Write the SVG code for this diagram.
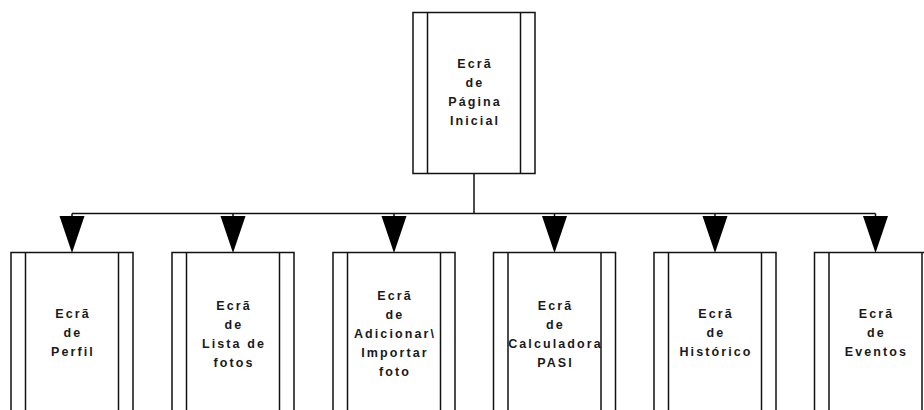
<svg xmlns="http://www.w3.org/2000/svg" width="924" height="410" viewBox="0 0 924 410">
  <defs>
    <style>
      .box { fill: #fff; stroke: #111; stroke-width: 1.5; }
      .bar { fill: none; stroke: #111; stroke-width: 1.5; }
      .wire { fill: none; stroke: #111; stroke-width: 1.5; }
      .head { fill: #000; stroke: none; }
      .lbl { font-family: "Liberation Sans", Arial, sans-serif; font-size: 12.5px; font-weight: bold; fill: #1a1a1a; letter-spacing: 2.1px; text-anchor: middle; }
    </style>
    <!-- predefined-process box: outer frame plus two inner side bars -->
    <g id="proc">
      <rect class="box" x="-61" y="0" width="122" height="161"/>
      <line class="bar" x1="-46.5" y1="0" x2="-46.5" y2="161"/>
      <line class="bar" x1="46.5" y1="0" x2="46.5" y2="161"/>
    </g>
    <polygon id="tri" class="head" points="-12.5,0 12.5,0 0,37"/>
  </defs>

  <!-- connectors -->
  <g id="connectors">
    <line class="wire" x1="474" y1="173" x2="474" y2="213.5"/>
    <line class="wire" x1="72" y1="213.5" x2="875.5" y2="213.5"/>
    <g class="wire">
      <line x1="72" y1="213.5" x2="72" y2="217"/>
      <line x1="233" y1="213.5" x2="233" y2="217"/>
      <line x1="394" y1="213.5" x2="394" y2="217"/>
      <line x1="554.5" y1="213.5" x2="554.5" y2="217"/>
      <line x1="715" y1="213.5" x2="715" y2="217"/>
      <line x1="875.5" y1="213.5" x2="875.5" y2="217"/>
    </g>
    <use href="#tri" x="72" y="216"/>
    <use href="#tri" x="233" y="216"/>
    <use href="#tri" x="394" y="216"/>
    <use href="#tri" x="554.5" y="216"/>
    <use href="#tri" x="715" y="216"/>
    <use href="#tri" x="875.5" y="216"/>
  </g>

  <g id="inicial">
    <use href="#proc" x="474" y="12.5"/>
    <text class="lbl" x="475" y="68">Ecrã</text>
    <text class="lbl" x="475" y="87">de</text>
    <text class="lbl" x="475" y="106">Página</text>
    <text class="lbl" x="475" y="125">Inicial</text>
  </g>

  <g id="perfil">
    <use href="#proc" x="72" y="252.5"/>
    <text class="lbl" x="73" y="318">Ecrã</text>
    <text class="lbl" x="73" y="337">de</text>
    <text class="lbl" x="73" y="356">Perfil</text>
  </g>

  <g id="lista">
    <use href="#proc" x="233" y="252.5"/>
    <text class="lbl" x="234" y="310">Ecrã</text>
    <text class="lbl" x="234" y="329">de</text>
    <text class="lbl" x="234" y="348">Lista de</text>
    <text class="lbl" x="234" y="367">fotos</text>
  </g>

  <g id="adicionar">
    <use href="#proc" x="394" y="252.5"/>
    <text class="lbl" x="395" y="300">Ecrã</text>
    <text class="lbl" x="395" y="319">de</text>
    <text class="lbl" x="395" y="338">Adicionar\</text>
    <text class="lbl" x="395" y="357">Importar</text>
    <text class="lbl" x="395" y="376">foto</text>
  </g>

  <g id="calculadora">
    <use href="#proc" x="554.5" y="252.5"/>
    <text class="lbl" x="555.5" y="310">Ecrã</text>
    <text class="lbl" x="555.5" y="329">de</text>
    <text class="lbl" x="555.5" y="348">Calculadora</text>
    <text class="lbl" x="555.5" y="367">PASI</text>
  </g>

  <g id="historico">
    <use href="#proc" x="715" y="252.5"/>
    <text class="lbl" x="716" y="318">Ecrã</text>
    <text class="lbl" x="716" y="337">de</text>
    <text class="lbl" x="716" y="356">Histórico</text>
  </g>

  <g id="eventos">
    <use href="#proc" x="875.5" y="252.5"/>
    <text class="lbl" x="876.5" y="318">Ecrã</text>
    <text class="lbl" x="876.5" y="337">de</text>
    <text class="lbl" x="876.5" y="356">Eventos</text>
  </g>
</svg>
